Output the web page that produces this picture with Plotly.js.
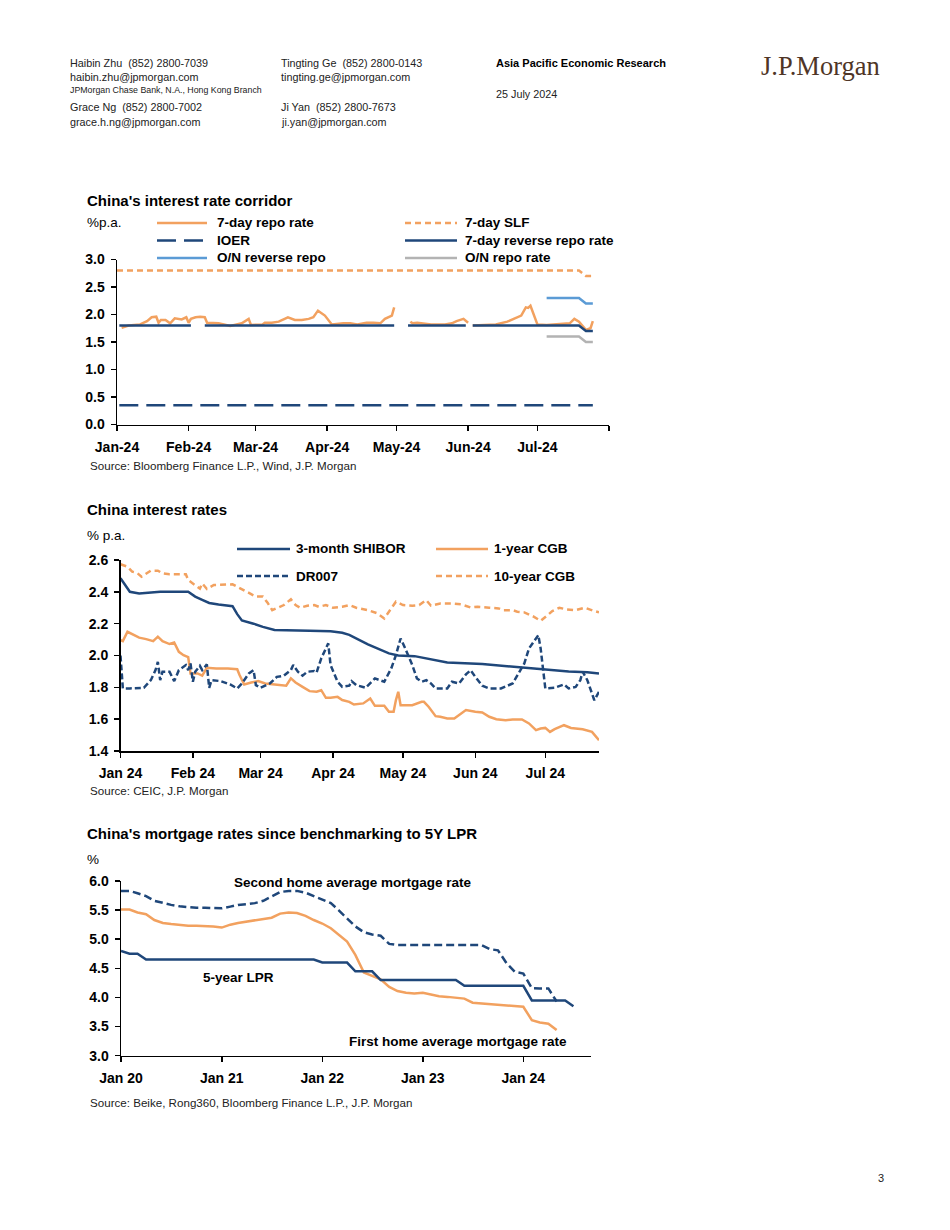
<!DOCTYPE html>
<html>
<head>
<meta charset="utf-8">
<script src="https://cdn.plot.ly/plotly-3.0.1.min.js"></script>
<style>
html,body{margin:0;padding:0;background:#fff;}
#chart{width:950px;height:1230px;}
</style>
</head>
<body>
<div id="chart"></div>
<script>
// ---------------- Chart 1: China's interest rate corridor ----------------
const c1TickVals = ['2024-01-01','2024-02-01','2024-03-01','2024-04-01','2024-05-01','2024-06-01','2024-07-01','2024-08-01'];
const c1TickText = ['Jan-24','Feb-24','Mar-24','Apr-24','May-24','Jun-24','Jul-24',''];

const c1RepoDates = ['2024-01-03','2024-01-06','2024-01-11','2024-01-14','2024-01-16','2024-01-18','2024-01-19','2024-01-20','2024-01-22','2024-01-24','2024-01-26','2024-01-29','2024-01-31','2024-02-01','2024-02-02','2024-02-04','2024-02-06','2024-02-08','2024-02-09','2024-02-14','2024-02-19','2024-02-24','2024-02-27','2024-02-28','2024-03-04','2024-03-05','2024-03-08','2024-03-11','2024-03-15','2024-03-18','2024-03-21','2024-03-24','2024-03-26','2024-03-28','2024-03-31','2024-04-03','2024-04-08','2024-04-11','2024-04-14','2024-04-18','2024-04-21','2024-04-24','2024-04-26','2024-04-29','2024-04-30','2024-05-04','2024-05-07','2024-05-08','2024-05-10','2024-05-12','2024-05-14','2024-05-16','2024-05-22','2024-05-25','2024-05-27','2024-05-29','2024-05-30','2024-06-01','2024-06-02','2024-06-03','2024-06-13','2024-06-18','2024-06-21','2024-06-23','2024-06-24','2024-06-26','2024-06-27','2024-06-28','2024-07-01','2024-07-05','2024-07-08','2024-07-15','2024-07-17','2024-07-19','2024-07-22','2024-07-24','2024-07-25'];
const c1RepoVals  = [1.76,1.80,1.82,1.88,1.95,1.96,1.85,1.90,1.90,1.84,1.93,1.91,1.95,1.85,1.92,1.95,1.96,1.95,1.85,1.84,1.79,1.84,1.92,1.81,1.82,1.85,1.85,1.87,1.95,1.90,1.90,1.92,1.95,2.07,1.98,1.82,1.84,1.84,1.82,1.85,1.85,1.84,1.92,1.98,2.13,null,1.87,1.84,1.85,1.84,1.84,1.82,1.82,1.84,1.88,1.90,1.92,1.85,null,1.80,1.82,1.87,1.92,1.96,1.98,2.13,2.12,2.16,1.82,1.81,1.82,1.84,1.92,1.87,1.72,1.75,1.88];

const c1SLFDates = ['2024-01-01','2024-07-19','2024-07-22','2024-07-25'];
const c1SLFVals  = [2.8,2.8,2.7,2.7];

const c1IOERDates = ['2024-01-02','2024-07-25'];
const c1IOERVals  = [0.35,0.35];

const c1RRDates = ['2024-01-02','2024-02-02','2024-02-05','2024-02-08','2024-04-30','2024-05-03','2024-05-06','2024-05-31','2024-06-01','2024-06-03','2024-07-19','2024-07-22','2024-07-25'];
const c1RRVals  = [1.8,1.8,null,1.8,1.8,null,1.8,1.8,null,1.8,1.8,1.7,1.7];

const c1ONRevDates = ['2024-07-05','2024-07-19','2024-07-22','2024-07-25'];
const c1ONRevVals  = [2.3,2.3,2.2,2.2];

const c1ONRepoDates = ['2024-07-05','2024-07-19','2024-07-22','2024-07-25'];
const c1ONRepoVals  = [1.6,1.6,1.5,1.5];

// ---------------- Chart 2: China interest rates ----------------
const c2TickVals = ['2024-01-01','2024-02-01','2024-03-01','2024-04-01','2024-05-01','2024-06-01','2024-07-01'];
const c2TickText = ['Jan 24','Feb 24','Mar 24','Apr 24','May 24','Jun 24','Jul 24'];

const c2ShiborDates = ['2024-01-01','2024-01-05','2024-01-09','2024-01-18','2024-01-30','2024-02-02','2024-02-05','2024-02-08','2024-02-12','2024-02-18','2024-02-20','2024-02-22','2024-02-27','2024-03-02','2024-03-07','2024-03-15','2024-03-22','2024-03-31','2024-04-05','2024-04-08','2024-04-12','2024-04-16','2024-04-25','2024-04-29','2024-05-06','2024-05-13','2024-05-20','2024-06-04','2024-06-15','2024-06-21','2024-07-02','2024-07-11','2024-07-19','2024-07-24'];
const c2ShiborVals  = [2.485,2.40,2.39,2.40,2.40,2.37,2.35,2.33,2.32,2.31,2.26,2.22,2.20,2.18,2.16,2.155,2.155,2.153,2.143,2.13,2.10,2.07,2.013,2.00,1.996,1.977,1.956,1.946,1.933,1.923,1.914,1.90,1.895,1.887];

const c2CGB1Dates = ['2024-01-01','2024-01-02','2024-01-04','2024-01-07','2024-01-09','2024-01-12','2024-01-15','2024-01-17','2024-01-19','2024-01-22','2024-01-24','2024-01-26','2024-01-28','2024-01-30','2024-01-31','2024-02-03','2024-02-05','2024-02-07','2024-02-11','2024-02-16','2024-02-20','2024-02-21','2024-02-23','2024-02-26','2024-02-29','2024-03-03','2024-03-07','2024-03-10','2024-03-12','2024-03-14','2024-03-16','2024-03-19','2024-03-22','2024-03-25','2024-03-27','2024-03-29','2024-03-31','2024-04-03','2024-04-05','2024-04-08','2024-04-10','2024-04-14','2024-04-17','2024-04-19','2024-04-23','2024-04-25','2024-04-27','2024-04-28','2024-04-29','2024-04-30','2024-05-05','2024-05-09','2024-05-10','2024-05-12','2024-05-15','2024-05-17','2024-05-20','2024-05-23','2024-05-25','2024-05-28','2024-06-01','2024-06-04','2024-06-07','2024-06-10','2024-06-14','2024-06-17','2024-06-21','2024-06-24','2024-06-27','2024-06-29','2024-07-01','2024-07-03','2024-07-05','2024-07-09','2024-07-12','2024-07-17','2024-07-21','2024-07-24'];
const c2CGB1Vals  = [2.097,2.09,2.149,2.124,2.112,2.103,2.09,2.118,2.09,2.072,2.082,2.023,2.002,1.99,1.887,1.887,1.873,1.923,1.919,1.919,1.914,1.877,1.818,1.83,1.839,1.824,1.818,1.814,1.81,1.856,1.83,1.803,1.776,1.772,1.782,1.734,1.734,1.74,1.72,1.709,1.692,1.699,1.73,1.684,1.684,1.646,1.646,1.72,1.772,1.688,1.688,1.709,1.709,1.678,1.619,1.615,1.604,1.604,1.625,1.657,1.646,1.642,1.615,1.60,1.594,1.598,1.598,1.573,1.531,1.541,1.545,1.52,1.537,1.562,1.545,1.537,1.52,1.468];

const c2DRDates = ['2024-01-01','2024-01-02','2024-01-05','2024-01-11','2024-01-14','2024-01-16','2024-01-17','2024-01-18','2024-01-19','2024-01-22','2024-01-24','2024-01-26','2024-01-29','2024-01-30','2024-01-31','2024-02-01','2024-02-02','2024-02-04','2024-02-05','2024-02-07','2024-02-08','2024-02-09','2024-02-13','2024-02-17','2024-02-20','2024-02-22','2024-02-25','2024-02-27','2024-02-28','2024-03-01','2024-03-05','2024-03-08','2024-03-11','2024-03-14','2024-03-15','2024-03-17','2024-03-19','2024-03-21','2024-03-24','2024-03-25','2024-03-27','2024-03-30','2024-03-31','2024-04-03','2024-04-05','2024-04-08','2024-04-09','2024-04-11','2024-04-15','2024-04-19','2024-04-23','2024-04-26','2024-04-28','2024-04-30','2024-05-02','2024-05-05','2024-05-07','2024-05-09','2024-05-11','2024-05-13','2024-05-15','2024-05-20','2024-05-22','2024-05-25','2024-05-28','2024-05-30','2024-06-01','2024-06-04','2024-06-07','2024-06-12','2024-06-17','2024-06-19','2024-06-22','2024-06-24','2024-06-27','2024-06-28','2024-06-29','2024-06-30','2024-07-01','2024-07-05','2024-07-09','2024-07-11','2024-07-14','2024-07-16','2024-07-17','2024-07-19','2024-07-22','2024-07-24'];
const c2DRVals  = [2.00,1.793,1.793,1.797,1.845,1.908,1.96,1.845,1.898,1.898,1.839,1.908,1.94,1.908,1.95,1.835,1.898,1.935,1.908,1.944,1.797,1.845,1.839,1.818,1.793,1.824,1.887,1.908,1.814,1.797,1.824,1.866,1.873,1.908,1.94,1.898,1.873,1.898,1.902,1.893,1.982,2.076,1.94,1.835,1.803,1.81,1.839,1.814,1.797,1.856,1.835,1.919,2.002,2.107,2.044,1.94,1.856,1.835,1.845,1.824,1.793,1.793,1.835,1.824,1.881,1.908,1.866,1.81,1.793,1.793,1.824,1.873,1.95,2.044,2.107,2.128,2.044,1.898,1.793,1.797,1.818,1.793,1.803,1.845,1.898,1.845,1.719,1.772];

const c2CGB10Dates = ['2024-01-01','2024-01-04','2024-01-06','2024-01-08','2024-01-10','2024-01-12','2024-01-14','2024-01-17','2024-01-19','2024-01-22','2024-01-25','2024-01-29','2024-01-30','2024-02-02','2024-02-04','2024-02-05','2024-02-07','2024-02-10','2024-02-14','2024-02-18','2024-02-20','2024-02-23','2024-02-25','2024-02-28','2024-03-02','2024-03-04','2024-03-06','2024-03-08','2024-03-11','2024-03-14','2024-03-16','2024-03-18','2024-03-21','2024-03-24','2024-03-26','2024-03-29','2024-04-01','2024-04-05','2024-04-08','2024-04-11','2024-04-16','2024-04-20','2024-04-23','2024-04-25','2024-04-28','2024-05-01','2024-05-05','2024-05-08','2024-05-11','2024-05-13','2024-05-17','2024-05-22','2024-05-26','2024-05-30','2024-06-02','2024-06-07','2024-06-11','2024-06-13','2024-06-17','2024-06-19','2024-06-22','2024-06-26','2024-06-29','2024-07-02','2024-07-04','2024-07-07','2024-07-10','2024-07-14','2024-07-18','2024-07-22','2024-07-24'];
const c2CGB10Vals  = [2.573,2.558,2.527,2.52,2.495,2.516,2.533,2.533,2.516,2.51,2.51,2.51,2.474,2.443,2.42,2.453,2.418,2.443,2.447,2.447,2.432,2.41,2.397,2.37,2.37,2.332,2.285,2.296,2.317,2.353,2.317,2.30,2.313,2.317,2.306,2.317,2.30,2.306,2.317,2.30,2.285,2.265,2.233,2.275,2.338,2.317,2.313,2.317,2.348,2.313,2.327,2.327,2.321,2.302,2.306,2.30,2.296,2.285,2.285,2.275,2.271,2.244,2.218,2.254,2.279,2.30,2.29,2.285,2.30,2.279,2.271];

// ---------------- Chart 3: China's mortgage rates ----------------
const c3TickVals = ['2020-01-01','2021-01-01','2022-01-01','2023-01-01','2024-01-01'];
const c3TickText = ['Jan 20','Jan 21','Jan 22','Jan 23','Jan 24'];

const c3Months = ['2020-01-01','2020-02-01','2020-03-01','2020-04-01','2020-05-01','2020-06-01','2020-07-01','2020-08-01','2020-09-01','2020-10-01','2020-11-01','2020-12-01',
  '2021-01-01','2021-02-01','2021-03-01','2021-04-01','2021-05-01','2021-06-01','2021-07-01','2021-08-01','2021-09-01','2021-10-01','2021-11-01','2021-12-01',
  '2022-01-01','2022-02-01','2022-03-01','2022-04-01','2022-05-01','2022-06-01','2022-07-01','2022-08-01','2022-09-01','2022-10-01','2022-11-01','2022-12-01',
  '2023-01-01','2023-02-01','2023-03-01','2023-04-01','2023-05-01','2023-06-01','2023-07-01','2023-08-01','2023-09-01','2023-10-01','2023-11-01','2023-12-01',
  '2024-01-01','2024-02-01','2024-03-01','2024-04-01','2024-05-01','2024-06-01','2024-07-01'];
const c3LPR = [4.80,4.75,4.75,4.65,4.65,4.65,4.65,4.65,4.65,4.65,4.65,4.65,
  4.65,4.65,4.65,4.65,4.65,4.65,4.65,4.65,4.65,4.65,4.65,4.65,
  4.60,4.60,4.60,4.60,4.45,4.45,4.45,4.30,4.30,4.30,4.30,4.30,
  4.30,4.30,4.30,4.30,4.30,4.20,4.20,4.20,4.20,4.20,4.20,4.20,
  4.20,3.95,3.95,3.95,3.95,3.95,3.85];
const c3FirstHome = [5.51,5.51,5.46,5.43,5.33,5.28,5.26,5.24,5.23,5.23,5.23,5.22,
  5.20,5.25,5.28,5.30,5.32,5.34,5.37,5.44,5.46,5.45,5.40,5.33,
  5.27,5.19,5.08,4.96,4.73,4.43,4.37,4.31,4.18,4.11,4.08,4.07,
  4.08,4.05,4.02,4.01,3.99,3.98,3.91,3.90,3.89,3.87,3.87,3.86,
  3.84,3.61,3.57,3.55,3.44];
const c3SecondHome = [5.83,5.83,5.79,5.74,5.66,5.62,5.59,5.565,5.55,5.54,5.54,5.54,
  5.53,5.56,5.59,5.60,5.62,5.66,5.73,5.81,5.83,5.83,5.80,5.74,
  5.69,5.62,5.50,5.36,5.22,5.12,5.08,5.06,4.92,4.90,4.90,4.90,
  4.90,4.90,4.90,4.90,4.90,4.90,4.90,4.90,4.83,4.81,4.59,4.44,
  4.41,4.16,4.155,4.155,3.93];

// ---------------- styling ----------------
const W = 950, H = 1230;
const ORANGE = '#F2A15F', NAVY = '#1F477A', LBLUE = '#5B9BD5', GRAY = '#B3B3B3';
const FONT = 'Liberation Sans, Arial, Helvetica, sans-serif';
const px = x => x / W;
const py = y => 1 - y / H;

function line(x, y, xa, ya, color, dash, width) {
  return {x: x, y: y, xaxis: xa, yaxis: ya, type: 'scatter', mode: 'lines',
    line: {color: color, dash: dash || 'solid', width: width || 2.5},
    connectgaps: false, showlegend: false, hoverinfo: 'skip'};
}

const SHORTDASH = '6px,4px';
const traces = [
  line(c1SLFDates, c1SLFVals, 'x', 'y', ORANGE, SHORTDASH),
  line(c1IOERDates, c1IOERVals, 'x', 'y', NAVY, '19px,8px'),
  line(c1ONRevDates, c1ONRevVals, 'x', 'y', LBLUE),
  line(c1ONRepoDates, c1ONRepoVals, 'x', 'y', GRAY),
  line(c1RepoDates, c1RepoVals, 'x', 'y', ORANGE),
  line(c1RRDates, c1RRVals, 'x', 'y', NAVY),

  line(c2CGB10Dates, c2CGB10Vals, 'x2', 'y2', ORANGE, SHORTDASH),
  line(c2ShiborDates, c2ShiborVals, 'x2', 'y2', NAVY),
  line(c2CGB1Dates, c2CGB1Vals, 'x2', 'y2', ORANGE),
  line(c2DRDates, c2DRVals, 'x2', 'y2', NAVY, '6px,3px'),

  line(c3Months, c3SecondHome, 'x3', 'y3', NAVY, '8px,4px'),
  line(c3Months, c3FirstHome, 'x3', 'y3', ORANGE),
  line(c3Months, c3LPR, 'x3', 'y3', NAVY)
];

const tickFont = {family: FONT, size: 14, color: '#000', weight: 'bold'};
function xAxis(domain, range, vals, text, anchor) {
  return {domain: domain, range: range, type: 'date', anchor: anchor,
    tickmode: 'array', tickvals: vals, ticktext: text,
    ticks: 'outside', ticklen: 5, tickwidth: 1.5, tickcolor: '#000',
    showline: true, linecolor: '#000', linewidth: 1.5,
    showgrid: false, zeroline: false, tickfont: tickFont, ticklabelstandoff: 4, fixedrange: true};
}
function yAxis(domain, range, dtick, anchor) {
  return {domain: domain, range: range, dtick: dtick, tick0: 0, anchor: anchor, tickformat: '.1f',
    ticks: 'outside', ticklen: 5, tickwidth: 1.5, tickcolor: '#000',
    showline: true, linecolor: '#000', linewidth: 1.5,
    showgrid: false, zeroline: false, tickfont: tickFont, ticklabelstandoff: 3, fixedrange: true};
}

function txt(x, y, text, size, opts) {
  opts = opts || {};
  return {xref: 'paper', yref: 'paper', x: px(x), y: py(y), text: text, showarrow: false,
    xanchor: opts.anchor || 'left', yanchor: 'middle',
    font: {family: opts.family || FONT, size: size, color: opts.color || '#000'}};
}
function legLine(x0, x1, y, color, dash) {
  return {type: 'line', xref: 'paper', yref: 'paper', x0: px(x0), x1: px(x1), y0: py(y), y1: py(y),
    line: {color: color, width: 2.5, dash: dash || 'solid'}};
}

const HC = '#222';
const annotations = [
  // header
  txt(68, 63, 'Haibin Zhu\u00a0 (852) 2800-7039', 10.8, {color: HC}),
  txt(68, 77, 'haibin.zhu@jpmorgan.com', 10.8, {color: HC}),
  txt(68, 90, 'JPMorgan Chase Bank, N.A., Hong Kong Branch', 8.8, {color: HC}),
  txt(68, 107, 'Grace Ng\u00a0 (852) 2800-7002', 10.8, {color: HC}),
  txt(68, 122, 'grace.h.ng@jpmorgan.com', 10.8, {color: HC}),
  txt(279, 63, 'Tingting Ge\u00a0 (852) 2800-0143', 10.8, {color: HC}),
  txt(279, 77, 'tingting.ge@jpmorgan.com', 10.8, {color: HC}),
  txt(279, 107, 'Ji Yan\u00a0 (852) 2800-7673', 10.8, {color: HC}),
  txt(279, 122, 'ji.yan@jpmorgan.com', 10.8, {color: HC}),
  txt(494, 63, '<b>Asia Pacific Economic Research</b>', 11, {color: '#000'}),
  txt(494, 94, '25 July 2024', 10.8, {color: HC}),
  txt(759, 66, 'J.P.Morgan', 26.5, {family: 'Liberation Serif, Times New Roman, serif', color: '#4F3526'}),

  // chart 1
  txt(85, 200, '<b>China\'s interest rate corridor</b>', 15),
  txt(85, 223, '%p.a.', 13.5),
  txt(215, 223, '<b>7-day repo rate</b>', 13.5),
  txt(215, 240.5, '<b>IOER</b>', 13.5),
  txt(215, 258, '<b>O/N reverse repo</b>', 13.5),
  txt(463, 223, '<b>7-day SLF</b>', 13.5),
  txt(463, 240.5, '<b>7-day reverse repo rate</b>', 13.5),
  txt(463, 258, '<b>O/N repo rate</b>', 13.5),
  txt(88, 465, 'Source: Bloomberg Finance L.P., Wind, J.P. Morgan', 11.6, {color: '#222'}),

  // chart 2
  txt(85, 509, '<b>China interest rates</b>', 15),
  txt(85, 535, '% p.a.', 13.5),
  txt(294, 549, '<b>3-month SHIBOR</b>', 13.5),
  txt(294, 576, '<b>DR007</b>', 13.5),
  txt(492, 549, '<b>1-year CGB</b>', 13.5),
  txt(492, 576, '<b>10-year CGB</b>', 13.5),
  txt(88, 790, 'Source: CEIC, J.P. Morgan', 11.6, {color: '#222'}),

  // chart 3
  txt(85, 833, '<b>China\'s mortgage rates since benchmarking to 5Y LPR</b>', 15),
  txt(85, 859, '%', 13.5),
  txt(353, 882, '<b>Second home average mortgage rate</b>', 13.5, {anchor: 'center'}),
  txt(201, 977, '<b>5-year LPR</b>', 13.5),
  txt(347, 1041, '<b>First home average mortgage rate</b>', 13.5),
  txt(88, 1102, 'Source: Beike, Rong360, Bloomberg Finance L.P., J.P. Morgan', 11.6, {color: '#222'}),

  // page number
  txt(876, 1178, '3', 11, {color: HC})
];

const shapes = [
  legLine(157, 207, 223, ORANGE),
  legLine(157, 207, 240.5, NAVY, '19px,8px'),
  legLine(157, 207, 258, LBLUE),
  legLine(405, 457, 223, ORANGE, SHORTDASH),
  legLine(405, 457, 240.5, NAVY),
  legLine(405, 457, 258, GRAY),

  legLine(237, 290, 549, NAVY),
  legLine(237, 290, 576, NAVY, '6px,3px'),
  legLine(436, 488, 549, ORANGE),
  legLine(436, 488, 576, ORANGE, SHORTDASH)
];

const layout = {
  width: W, height: H,
  margin: {l: 0, r: 0, t: 0, b: 0, pad: 0},
  paper_bgcolor: '#fff', plot_bgcolor: 'rgba(0,0,0,0)',
  font: {family: FONT, size: 12, color: '#000'},
  showlegend: false, hovermode: false,
  xaxis: xAxis([px(117), px(609)], ['2024-01-01', '2024-08-01'], c1TickVals, c1TickText, 'y'),
  yaxis: yAxis([py(424.5), py(259.5)], [0, 3], 0.5, 'x'),
  xaxis2: xAxis([px(120.5), px(599)], ['2024-01-01', '2024-07-24'], c2TickVals, c2TickText, 'y2'),
  yaxis2: yAxis([py(751), py(560)], [1.4, 2.6], 0.2, 'x2'),
  xaxis3: xAxis([px(121), px(590.5)], ['2020-01-01', '2024-09-01'], c3TickVals, c3TickText, 'y3'),
  yaxis3: yAxis([py(1055.7), py(881)], [3, 6], 0.5, 'x3'),
  annotations: annotations,
  shapes: shapes
};

Plotly.newPlot('chart', traces, layout, {displayModeBar: false, staticPlot: true});
</script>
</body>
</html>
